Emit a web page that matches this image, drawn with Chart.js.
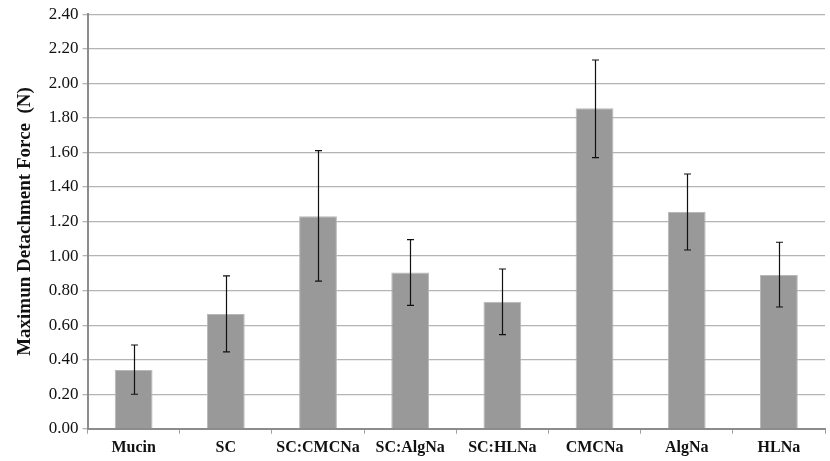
<!DOCTYPE html>
<html>
<head>
<meta charset="utf-8">
<script src="https://cdn.jsdelivr.net/npm/chart.js@4"></script>
<style>
  html, body { margin: 0; padding: 0; background: #fff; }
  #wrap { width: 830px; height: 461px; }
</style>
</head>
<body>
<div id="wrap"><canvas id="chart" width="830" height="461"></canvas></div>
<script>
const categories = ['Mucin', 'SC', 'SC:CMCNa', 'SC:AlgNa', 'SC:HLNa', 'CMCNa', 'AlgNa', 'HLNa'];
const forceValues = [0.34, 0.665, 1.23, 0.905, 0.735, 1.855, 1.255, 0.89];
const errorLow = [0.20, 0.445, 0.855, 0.715, 0.545, 1.57, 1.035, 0.705];
const errorHigh = [0.485, 0.885, 1.61, 1.095, 0.925, 2.135, 1.475, 1.08];

const serif = '"Liberation Serif", "Times New Roman", serif';

// error bars drawn on top of the bars, through the y scale
const errorBarPlugin = {
    id: 'errorBars',
    afterDatasetsDraw(chart) {
        const ctx = chart.ctx;
        const yScale = chart.scales.y;
        const meta = chart.getDatasetMeta(0);
        ctx.save();
        ctx.strokeStyle = '#111';
        ctx.lineWidth = 1.2;
        meta.data.forEach((bar, i) => {
            const x = Math.round(bar.x) + 0.5;
            const yTop = yScale.getPixelForValue(errorHigh[i]);
            const yBot = yScale.getPixelForValue(errorLow[i]);
            const cap = 3.5;
            ctx.beginPath();
            ctx.moveTo(x, yTop);
            ctx.lineTo(x, yBot);
            ctx.moveTo(x - cap, yTop);
            ctx.lineTo(x + cap, yTop);
            ctx.moveTo(x - cap, yBot);
            ctx.lineTo(x + cap, yBot);
            ctx.stroke();
        });
        ctx.restore();
    }
};

new Chart(document.getElementById('chart').getContext('2d'), {
    type: 'bar',
    data: {
        labels: categories,
        datasets: [{
            data: forceValues,
            backgroundColor: '#999999',
            borderColor: '#b8b8b8',
            borderWidth: 1,
            barPercentage: 0.41,
            categoryPercentage: 1.0
        }]
    },
    options: {
        responsive: false,
        animation: false,
        layout: { padding: { top: 12, right: 5, left: 14, bottom: 0 } },
        plugins: {
            legend: { display: false },
            tooltip: { enabled: false }
        },
        scales: {
            x: {
                offset: true,
                grid: {
                    offset: true,
                    drawOnChartArea: false,
                    color: '#a0a0a0',
                    tickLength: 5,
                    lineWidth: 1
                },
                border: { color: '#8c8c8c', width: 2 },
                ticks: {
                    color: '#111',
                    font: { family: serif, size: 16, weight: 'bold' },
                    maxRotation: 0,
                    autoSkip: false,
                    padding: 4
                }
            },
            y: {
                min: 0,
                max: 2.4,
                ticks: {
                    stepSize: 0.2,
                    color: '#111',
                    font: { family: serif, size: 17 },
                    padding: 4,
                    callback: v => v.toFixed(2)
                },
                grid: {
                    color: '#b4b4b4',
                    lineWidth: 1.3,
                    tickLength: 5
                },
                border: { color: '#8c8c8c', width: 2 },
                title: {
                    display: true,
                    text: 'Maximun Detachment Force  (N)',
                    color: '#111',
                    font: { family: serif, size: 19, weight: 'bold' },
                    padding: { top: 0, bottom: 8 }
                }
            }
        }
    },
    plugins: [errorBarPlugin]
});
</script>
</body>
</html>
